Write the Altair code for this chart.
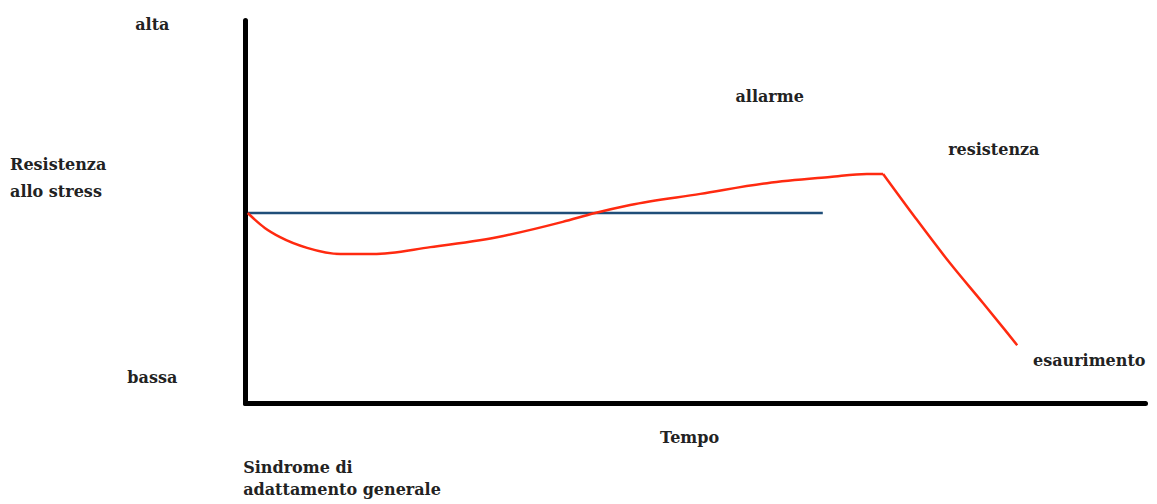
import altair as alt
import pandas as pd

# Red curve: resistance to stress over time (data units 0-100)
# phase "a": alarm + resistance (smooth), phase "b": exhaustion (drop)
red_t = [0.3, 2.2, 3.9, 6.9, 10.6, 14.2, 20.6, 28.0, 35.3, 38.9, 42.8, 50.6, 58.0, 65.0, 69.1, 70.9,
         70.9, 74.5, 78.3, 82.0, 84.5, 85.8]
red_r = [49.6, 45.7, 43.3, 40.5, 38.9, 38.9, 40.7, 43.3, 47.3, 49.6, 51.7, 54.6, 57.4, 59.0, 59.8, 59.8,
         59.8, 48.3, 36.6, 26.1, 18.9, 15.1]
red_seg = ["a"] * 16 + ["b"] * 6

# Blue baseline
blue_t = [0.3, 64.2]
blue_r = [49.6, 49.6]

# Labels
left_text = ["Resistenza", "allo stress", "Sindrome di", "adattamento generale"]
left_t = [-26.1, -26.1, -0.2, -0.2]
left_r = [62.1, 55.1, -17.0, -22.6]

center_text = ["alta", "bassa", "allarme", "resistenza", "esaurimento", "Tempo"]
center_t = [-10.3, -10.3, 58.3, 83.2, 93.8, 49.4]
center_r = [98.7, 6.5, 79.9, 66.1, 11.0, -9.1]

red_df = pd.DataFrame({"t": red_t, "r": red_r, "seg": red_seg, "o": list(range(len(red_t)))})
blue_df = pd.DataFrame({"t": blue_t, "r": blue_r, "o": [0, 1]})
left_df = pd.DataFrame({"t": left_t, "r": left_r, "label": left_text})
center_df = pd.DataFrame({"t": center_t, "r": center_r, "label": center_text})

xs = alt.Scale(domain=[0, 100], nice=False, zero=False)
ys = alt.Scale(domain=[0, 100], nice=False, zero=False)

axis_x = alt.Axis(labels=False, ticks=False, grid=False, title=None, domainColor="black",
                  domainWidth=5, domainCap="round")
axis_y = alt.Axis(labels=False, ticks=False, grid=False, title=None, domainColor="black",
                  domainWidth=5, domainCap="round")

blue = alt.Chart(blue_df).mark_line(color="#1f4e79", strokeWidth=2.5).encode(
    x=alt.X("t:Q", scale=xs, axis=axis_x),
    y=alt.Y("r:Q", scale=ys, axis=axis_y),
    order="o:Q",
)

red = alt.Chart(red_df).mark_line(color="#ff2a10", strokeWidth=2.5, interpolate="monotone",
                                  strokeJoin="round").encode(
    x=alt.X("t:Q", scale=xs),
    y=alt.Y("r:Q", scale=ys),
    detail="seg:N",
    order="o:Q",
)

font = "DejaVu Serif"
left_labels = alt.Chart(left_df).mark_text(
    align="left", baseline="middle", font=font, fontSize=16, fontWeight="bold", color="#222222"
).encode(x=alt.X("t:Q", scale=xs), y=alt.Y("r:Q", scale=ys), text="label:N")

center_labels = alt.Chart(center_df).mark_text(
    align="center", baseline="middle", font=font, fontSize=16, fontWeight="bold", color="#222222"
).encode(x=alt.X("t:Q", scale=xs), y=alt.Y("r:Q", scale=ys), text="label:N")

chart = alt.layer(blue, red, left_labels, center_labels).properties(
    width=900,
    height=383,
    autosize=alt.AutoSizeParams(type="none"),
    padding={"left": 237, "top": 12, "right": 4, "bottom": 100},
    background="white",
).configure_view(stroke=None)

chart.save("out.html", embed_options={"renderer": "svg", "actions": False})
